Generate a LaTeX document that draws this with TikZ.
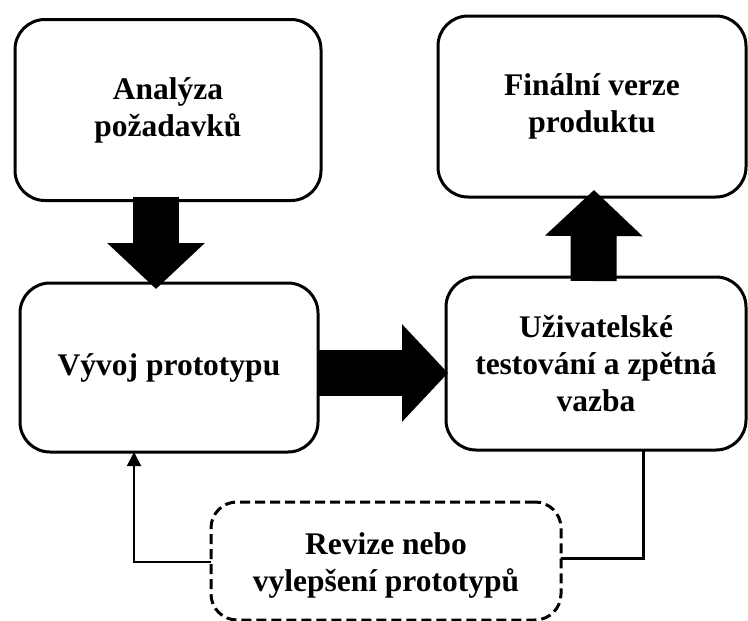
\documentclass[tikz,border=0pt]{standalone}
\usepackage{fontspec}
\setmainfont{Liberation Serif}
\usetikzlibrary{arrows.meta}
\begin{document}
\begin{tikzpicture}[x=1pt,y=-1pt,
  stagebox/.style={draw, line width=3pt, rounded corners=30pt, align=center,
    inner sep=0pt, outer sep=0pt,
    font=\bfseries\fontsize{31.5}{37}\selectfont},
  revisebox/.style={stagebox, dash pattern=on 10pt off 5pt, rounded corners=26pt},
  bigarrow/.style={line width=46pt, -{Triangle[length=46pt,width=95pt]}},
  loopline/.style={line width=2pt},
  loopthick/.style={line width=3pt}]
\useasboundingbox (0,0) rectangle (748,621);

\node[stagebox, minimum width=306pt, minimum height=181pt] (A) at (168,110) {Analýza\\požadavků};
\node[stagebox, minimum width=308pt, minimum height=181pt] (F) at (592,106.5) {Finální verze\\produktu};
\node[stagebox, minimum width=298pt, minimum height=169pt] (V) at (169,367.5) {Vývoj prototypu};
\node[stagebox, minimum width=300pt, minimum height=173pt] (U) at (596,363.5) {Uživatelské\\testování a zpětná\\vazba};
% the strut lowers the two text lines inside the dashed box
\node[revisebox, minimum width=350pt, minimum height=118pt] (R) at (386,561) {\rule{0pt}{31.5pt}Revize nebo\\vylepšení prototypů};

% block arrows between the stages
\draw[bigarrow] ([xshift=-12pt,yshift=4pt]A.south) -- ([xshift=-13pt,yshift=-6pt]V.north);
\draw[bigarrow] ([yshift=-5.5pt]V.east) -- ([xshift=2pt,yshift=-9.5pt]U.west);
\draw[bigarrow] ([xshift=-2.5pt,yshift=-4pt]U.north) -- ([xshift=2pt,yshift=7pt]F.south);

% feedback loop through the revision step
\draw[loopthick] ([xshift=47pt]U.south) |- ([yshift=3pt]R.east);
\draw[loopline, -{Triangle[length=14pt,width=14pt]}] ([yshift=-1pt]R.west) -| ([xshift=-35pt]V.south);
\end{tikzpicture}
\end{document}
